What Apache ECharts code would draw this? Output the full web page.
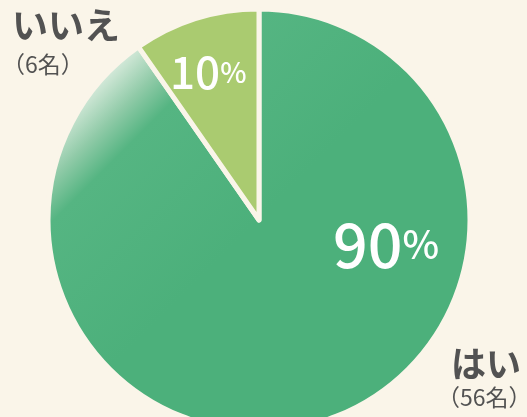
<!DOCTYPE html>
<html><head><meta charset="utf-8">
<script src="https://cdn.jsdelivr.net/npm/echarts@6/dist/echarts.min.js"></script>
<style>html,body{margin:0;padding:0;background:#faf5e9;}#c{width:527px;height:417px;}</style>
</head><body><div id="c"></div>
<script>
const categories = ['はい', 'いいえ'];
const counts = [56, 6];
const percentLabels = ['90', '10'];
const countLabels = ['（56名）', '（6名）'];

const chart = echarts.init(document.getElementById('c'), null, {renderer: 'canvas'});
const font = '"Noto Sans CJK JP", "Noto Sans", sans-serif';
const option = {
  backgroundColor: '#faf5e9',
  animation: false,
  series: [{
    type: 'pie',
    center: [259, 220],
    radius: [0, 211],
    startAngle: 90,
    clockwise: true,
    label: {show: false},
    labelLine: {show: false},
    itemStyle: {borderColor: '#faf5e9', borderWidth: 5},
    emphasis: {disabled: true},
    data: [
      {name: categories[0], value: counts[0], itemStyle: {color: {
        type: 'linear', x: 0, y: 0, x2: 0.5, y2: 0.5,
        colorStops: [
          {offset: 0, color: '#eef3e6'},
          {offset: 0.3, color: '#d6eadb'},
          {offset: 0.42, color: '#8fcaa7'},
          {offset: 0.52, color: '#55b582'},
          {offset: 1, color: '#4cb07b'}
        ]}}},
      {name: categories[1], value: counts[1], itemStyle: {color: '#aacb70'}}
    ]
  }],
  graphic: [
    {type: 'text', z: 100, left: 170, top: 50, style: {
      rich: {n: {fontSize: 44, fontFamily: font, fill: '#ffffff', fontWeight: 500},
             p: {fontSize: 28, fontFamily: font, fill: '#ffffff', fontWeight: 500}},
      text: '{n|' + percentLabels[1] + '}{p|%}'}},
    {type: 'text', z: 100, left: 333, top: 214, style: {
      rich: {n: {fontSize: 61, fontFamily: font, fill: '#ffffff', fontWeight: 500},
             p: {fontSize: 39, fontFamily: font, fill: '#ffffff', fontWeight: 500}},
      text: '{n|' + percentLabels[0] + '}{p|%}'}},
    {type: 'text', z: 100, left: 12, top: 7, style: {text: categories[1], fontSize: 36, fontWeight: 'bold', fontFamily: font, fill: '#525252'}},
    {type: 'text', z: 100, left: 2, top: 53, style: {text: countLabels[1], fontSize: 23, fontFamily: font, fill: '#525252'}},
    {type: 'text', z: 100, left: 451, top: 346, style: {text: categories[0], fontSize: 35, fontWeight: 'bold', fontFamily: font, fill: '#525252'}},
    {type: 'text', z: 100, left: 437, top: 386, style: {text: countLabels[0], fontSize: 23, fontFamily: font, fill: '#525252'}}
  ]
};
chart.setOption(option);
</script></body></html>
